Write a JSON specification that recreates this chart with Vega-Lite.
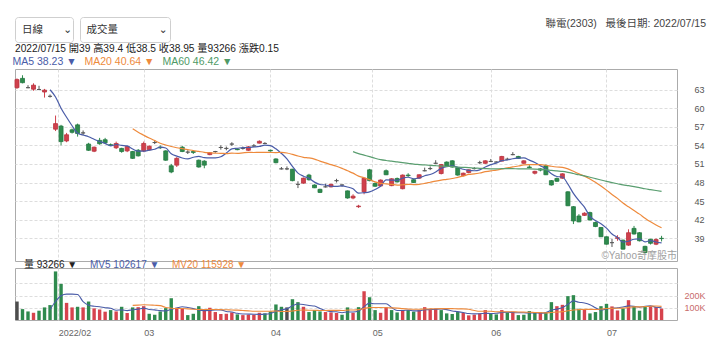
{
"$schema": "https://vega.github.io/schema/vega-lite/v6.json",
"padding": {"left": 14, "top": 16, "right": 8, "bottom": 4},
"background": "#ffffff",
"config": {
  "font": "Liberation Sans, Noto Sans CJK TC, DejaVu Sans, sans-serif",
  "view": {"stroke": "#ababab"},
  "axis": {"domain": false, "ticks": false, "tickSize": 0, "gridColor": "#dddddd", "gridDash": [3, 2], "labelColor": "#555555", "labelFontSize": 9, "labelFlush": false, "labelOverlap": false},
  "title": {"fontWeight": "normal"},
  "legend": {"padding": 0}
},
"datasets": {"k": [
{"d":"2022-01-17","i":0,"o":63.3,"h":64.8,"l":63.1,"c":64.6,"v":151000,"vd":"f"},
{"d":"2022-01-18","i":1,"o":64.8,"h":65.3,"l":64.0,"c":64.1,"v":89000,"vd":"d"},
{"d":"2022-01-19","i":2,"o":63.3,"h":63.7,"l":63.2,"c":63.3,"v":70000,"vd":"d"},
{"d":"2022-01-20","i":3,"o":63.05,"h":64.0,"l":62.8,"c":63.7,"v":59000,"vd":"u"},
{"d":"2022-01-21","i":4,"o":63.0,"h":63.6,"l":62.9,"c":63.0,"v":76000,"vd":"d"},
{"d":"2022-01-24","i":5,"o":62.6,"h":63.1,"l":61.7,"c":62.9,"v":103000,"vd":"d"},
{"d":"2022-01-25","i":6,"o":61.9,"h":62.2,"l":61.7,"c":61.9,"v":122000,"vd":"d"},
{"d":"2022-01-26","i":7,"o":56.6,"h":58.8,"l":56.3,"c":57.5,"v":397000,"vd":"d"},
{"d":"2022-02-07","i":8,"o":57.1,"h":57.3,"l":54.0,"c":54.6,"v":295000,"vd":"d"},
{"d":"2022-02-08","i":9,"o":54.7,"h":56.0,"l":54.5,"c":55.7,"v":140000,"vd":"u"},
{"d":"2022-02-09","i":10,"o":56.5,"h":56.7,"l":55.9,"c":56.1,"v":103000,"vd":"u"},
{"d":"2022-02-10","i":11,"o":57.3,"h":57.5,"l":55.4,"c":55.9,"v":108000,"vd":"d"},
{"d":"2022-02-11","i":12,"o":56.0,"h":56.4,"l":55.6,"c":56.0,"v":103000,"vd":"u"},
{"d":"2022-02-14","i":13,"o":54.2,"h":54.4,"l":53.1,"c":53.2,"v":151000,"vd":"d"},
{"d":"2022-02-15","i":14,"o":53.05,"h":53.8,"l":52.9,"c":53.7,"v":95000,"vd":"u"},
{"d":"2022-02-16","i":15,"o":54.8,"h":55.2,"l":54.1,"c":54.25,"v":86000,"vd":"u"},
{"d":"2022-02-17","i":16,"o":54.9,"h":55.2,"l":54.2,"c":54.4,"v":68000,"vd":"u"},
{"d":"2022-02-18","i":17,"o":54.1,"h":54.3,"l":53.9,"c":54.0,"v":81000,"vd":"d"},
{"d":"2022-02-21","i":18,"o":53.6,"h":54.6,"l":53.4,"c":54.3,"v":70000,"vd":"u"},
{"d":"2022-02-22","i":19,"o":53.5,"h":53.6,"l":52.8,"c":53.0,"v":108000,"vd":"d"},
{"d":"2022-02-23","i":20,"o":53.1,"h":53.9,"l":52.9,"c":53.8,"v":57000,"vd":"u"},
{"d":"2022-02-24","i":21,"o":53.0,"h":53.1,"l":51.8,"c":51.9,"v":103000,"vd":"d"},
{"d":"2022-02-25","i":22,"o":53.2,"h":53.4,"l":52.2,"c":52.3,"v":105000,"vd":"u"},
{"d":"2022-03-01","i":23,"o":53.1,"h":54.6,"l":52.9,"c":54.3,"v":113000,"vd":"u"},
{"d":"2022-03-02","i":24,"o":53.3,"h":54.0,"l":53.1,"c":53.85,"v":51000,"vd":"d"},
{"d":"2022-03-03","i":25,"o":54.45,"h":54.7,"l":54.2,"c":54.45,"v":43000,"vd":"d"},
{"d":"2022-03-04","i":26,"o":53.7,"h":54.0,"l":53.4,"c":53.6,"v":70000,"vd":"d"},
{"d":"2022-03-07","i":27,"o":53.1,"h":53.2,"l":51.5,"c":51.6,"v":97000,"vd":"d"},
{"d":"2022-03-08","i":28,"o":50.7,"h":51.0,"l":49.5,"c":49.7,"v":178000,"vd":"d"},
{"d":"2022-03-09","i":29,"o":50.8,"h":52.1,"l":50.5,"c":51.9,"v":100000,"vd":"u"},
{"d":"2022-03-10","i":30,"o":53.7,"h":53.9,"l":52.9,"c":53.0,"v":95000,"vd":"u"},
{"d":"2022-03-11","i":31,"o":52.9,"h":53.2,"l":52.6,"c":52.9,"v":40000,"vd":"d"},
{"d":"2022-03-14","i":32,"o":53.0,"h":53.2,"l":52.6,"c":52.85,"v":51000,"vd":"d"},
{"d":"2022-03-15","i":33,"o":51.6,"h":51.7,"l":50.4,"c":50.5,"v":113000,"vd":"d"},
{"d":"2022-03-16","i":34,"o":51.45,"h":51.6,"l":50.3,"c":50.8,"v":84000,"vd":"u"},
{"d":"2022-03-17","i":35,"o":52.5,"h":52.9,"l":52.4,"c":52.8,"v":100000,"vd":"u"},
{"d":"2022-03-18","i":36,"o":53.0,"h":53.1,"l":52.8,"c":53.0,"v":65000,"vd":"u"},
{"d":"2022-03-21","i":37,"o":53.65,"h":54.0,"l":53.3,"c":53.65,"v":49000,"vd":"u"},
{"d":"2022-03-22","i":38,"o":53.5,"h":53.8,"l":53.2,"c":53.5,"v":51000,"vd":"u"},
{"d":"2022-03-23","i":39,"o":54.2,"h":54.5,"l":53.9,"c":54.2,"v":62000,"vd":"u"},
{"d":"2022-03-24","i":40,"o":53.4,"h":53.5,"l":53.2,"c":53.3,"v":46000,"vd":"d"},
{"d":"2022-03-25","i":41,"o":53.5,"h":53.8,"l":53.3,"c":53.5,"v":40000,"vd":"u"},
{"d":"2022-03-28","i":42,"o":53.2,"h":53.9,"l":53.1,"c":53.75,"v":43000,"vd":"u"},
{"d":"2022-03-29","i":43,"o":53.9,"h":54.2,"l":53.7,"c":53.9,"v":43000,"vd":"u"},
{"d":"2022-03-30","i":44,"o":54.35,"h":54.8,"l":54.3,"c":54.65,"v":59000,"vd":"u"},
{"d":"2022-03-31","i":45,"o":54.3,"h":54.5,"l":54.2,"c":54.3,"v":54000,"vd":"d"},
{"d":"2022-04-01","i":46,"o":53.2,"h":53.3,"l":53.0,"c":53.1,"v":70000,"vd":"d"},
{"d":"2022-04-06","i":47,"o":51.8,"h":51.9,"l":51.1,"c":51.2,"v":127000,"vd":"d"},
{"d":"2022-04-07","i":48,"o":50.2,"h":50.5,"l":50.1,"c":50.2,"v":108000,"vd":"d"},
{"d":"2022-04-08","i":49,"o":50.2,"h":50.6,"l":50.0,"c":50.2,"v":103000,"vd":"f"},
{"d":"2022-04-11","i":50,"o":50.15,"h":50.2,"l":48.2,"c":48.3,"v":170000,"vd":"d"},
{"d":"2022-04-12","i":51,"o":47.7,"h":48.2,"l":47.1,"c":47.7,"v":146000,"vd":"d"},
{"d":"2022-04-13","i":52,"o":47.9,"h":48.8,"l":47.8,"c":48.7,"v":108000,"vd":"u"},
{"d":"2022-04-14","i":53,"o":49.2,"h":49.4,"l":48.3,"c":48.45,"v":65000,"vd":"d"},
{"d":"2022-04-15","i":54,"o":47.6,"h":47.7,"l":47.1,"c":47.15,"v":81000,"vd":"d"},
{"d":"2022-04-18","i":55,"o":46.9,"h":47.0,"l":46.3,"c":46.4,"v":70000,"vd":"d"},
{"d":"2022-04-19","i":56,"o":47.3,"h":47.8,"l":47.2,"c":47.3,"v":65000,"vd":"u"},
{"d":"2022-04-20","i":57,"o":47.3,"h":47.8,"l":47.2,"c":47.7,"v":62000,"vd":"u"},
{"d":"2022-04-21","i":58,"o":48.3,"h":48.6,"l":48.0,"c":48.3,"v":57000,"vd":"u"},
{"d":"2022-04-22","i":59,"o":47.6,"h":47.7,"l":47.3,"c":47.6,"v":43000,"vd":"d"},
{"d":"2022-04-25","i":60,"o":46.65,"h":46.7,"l":45.4,"c":45.5,"v":103000,"vd":"d"},
{"d":"2022-04-26","i":61,"o":45.5,"h":46.1,"l":45.3,"c":45.8,"v":59000,"vd":"u"},
{"d":"2022-04-27","i":62,"o":44.1,"h":44.4,"l":43.9,"c":44.2,"v":105000,"vd":"d"},
{"d":"2022-04-28","i":63,"o":46.5,"h":48.8,"l":46.1,"c":48.7,"v":235000,"vd":"u"},
{"d":"2022-04-29","i":64,"o":50.05,"h":50.2,"l":48.2,"c":48.3,"v":186000,"vd":"d"},
{"d":"2022-05-03","i":65,"o":47.85,"h":48.0,"l":47.3,"c":47.4,"v":81000,"vd":"d"},
{"d":"2022-05-04","i":66,"o":47.45,"h":48.5,"l":47.4,"c":48.4,"v":59000,"vd":"u"},
{"d":"2022-05-05","i":67,"o":49.9,"h":50.1,"l":49.2,"c":49.25,"v":105000,"vd":"u"},
{"d":"2022-05-06","i":68,"o":47.5,"h":48.7,"l":47.4,"c":48.6,"v":81000,"vd":"d"},
{"d":"2022-05-09","i":69,"o":48.65,"h":48.8,"l":48.0,"c":48.1,"v":62000,"vd":"d"},
{"d":"2022-05-10","i":70,"o":47.0,"h":49.3,"l":46.9,"c":49.2,"v":81000,"vd":"u"},
{"d":"2022-05-11","i":71,"o":49.2,"h":49.5,"l":48.9,"c":49.1,"v":81000,"vd":"d"},
{"d":"2022-05-12","i":72,"o":48.45,"h":48.6,"l":47.9,"c":48.0,"v":68000,"vd":"d"},
{"d":"2022-05-13","i":73,"o":48.7,"h":49.3,"l":48.6,"c":49.25,"v":81000,"vd":"u"},
{"d":"2022-05-16","i":74,"o":49.9,"h":50.4,"l":49.8,"c":49.9,"v":105000,"vd":"u"},
{"d":"2022-05-17","i":75,"o":50.25,"h":50.6,"l":50.0,"c":50.25,"v":92000,"vd":"u"},
{"d":"2022-05-18","i":76,"o":51.1,"h":51.6,"l":51.0,"c":51.1,"v":92000,"vd":"u"},
{"d":"2022-05-19","i":77,"o":49.45,"h":51.0,"l":49.3,"c":50.9,"v":81000,"vd":"d"},
{"d":"2022-05-20","i":78,"o":51.3,"h":51.4,"l":50.5,"c":50.6,"v":54000,"vd":"d"},
{"d":"2022-05-23","i":79,"o":51.5,"h":51.6,"l":50.4,"c":50.5,"v":49000,"vd":"d"},
{"d":"2022-05-24","i":80,"o":50.4,"h":50.5,"l":49.1,"c":49.2,"v":65000,"vd":"d"},
{"d":"2022-05-25","i":81,"o":49.15,"h":49.6,"l":49.0,"c":49.5,"v":57000,"vd":"u"},
{"d":"2022-05-26","i":82,"o":49.6,"h":50.1,"l":49.5,"c":50.05,"v":38000,"vd":"u"},
{"d":"2022-05-27","i":83,"o":50.25,"h":50.5,"l":50.1,"c":50.25,"v":43000,"vd":"u"},
{"d":"2022-05-30","i":84,"o":51.2,"h":51.5,"l":51.0,"c":51.2,"v":54000,"vd":"u"},
{"d":"2022-05-31","i":85,"o":51.1,"h":51.6,"l":51.0,"c":51.5,"v":81000,"vd":"u"},
{"d":"2022-06-01","i":86,"o":51.4,"h":51.8,"l":51.3,"c":51.4,"v":49000,"vd":"d"},
{"d":"2022-06-02","i":87,"o":51.3,"h":51.4,"l":51.2,"c":51.3,"v":46000,"vd":"d"},
{"d":"2022-06-06","i":88,"o":51.45,"h":52.3,"l":51.4,"c":52.2,"v":81000,"vd":"u"},
{"d":"2022-06-07","i":89,"o":51.75,"h":52.0,"l":51.6,"c":51.75,"v":62000,"vd":"d"},
{"d":"2022-06-08","i":90,"o":52.5,"h":52.9,"l":52.4,"c":52.5,"v":68000,"vd":"u"},
{"d":"2022-06-09","i":91,"o":52.2,"h":52.3,"l":51.8,"c":51.9,"v":40000,"vd":"d"},
{"d":"2022-06-10","i":92,"o":51.1,"h":51.6,"l":51.0,"c":51.5,"v":43000,"vd":"d"},
{"d":"2022-06-13","i":93,"o":50.5,"h":50.8,"l":50.3,"c":50.4,"v":73000,"vd":"d"},
{"d":"2022-06-14","i":94,"o":49.5,"h":49.9,"l":49.3,"c":49.8,"v":62000,"vd":"d"},
{"d":"2022-06-15","i":95,"o":50.2,"h":50.3,"l":49.8,"c":50.0,"v":62000,"vd":"u"},
{"d":"2022-06-16","i":96,"o":50.7,"h":50.9,"l":49.2,"c":49.25,"v":62000,"vd":"d"},
{"d":"2022-06-17","i":97,"o":48.3,"h":48.4,"l":47.5,"c":47.6,"v":146000,"vd":"d"},
{"d":"2022-06-20","i":98,"o":48.65,"h":48.8,"l":48.1,"c":48.2,"v":113000,"vd":"u"},
{"d":"2022-06-21","i":99,"o":48.7,"h":49.5,"l":48.6,"c":49.4,"v":124000,"vd":"u"},
{"d":"2022-06-22","i":100,"o":46.5,"h":46.6,"l":44.2,"c":44.25,"v":195000,"vd":"d"},
{"d":"2022-06-23","i":101,"o":44.1,"h":44.2,"l":41.3,"c":41.8,"v":203000,"vd":"d"},
{"d":"2022-06-24","i":102,"o":42.6,"h":42.9,"l":41.6,"c":41.65,"v":92000,"vd":"d"},
{"d":"2022-06-27","i":103,"o":42.7,"h":43.2,"l":42.6,"c":43.05,"v":84000,"vd":"u"},
{"d":"2022-06-28","i":104,"o":43.15,"h":43.3,"l":41.9,"c":41.95,"v":54000,"vd":"d"},
{"d":"2022-06-29","i":105,"o":41.55,"h":41.7,"l":40.8,"c":40.9,"v":65000,"vd":"d"},
{"d":"2022-06-30","i":106,"o":40.75,"h":40.8,"l":39.2,"c":39.25,"v":113000,"vd":"d"},
{"d":"2022-07-01","i":107,"o":39.25,"h":39.3,"l":38.0,"c":38.05,"v":132000,"vd":"d"},
{"d":"2022-07-04","i":108,"o":38.3,"h":38.9,"l":37.6,"c":38.3,"v":111000,"vd":"u"},
{"d":"2022-07-05","i":109,"o":39.0,"h":39.5,"l":38.6,"c":39.1,"v":78000,"vd":"u"},
{"d":"2022-07-06","i":110,"o":38.7,"h":38.8,"l":37.2,"c":37.25,"v":95000,"vd":"d"},
{"d":"2022-07-07","i":111,"o":37.9,"h":40.45,"l":37.8,"c":39.9,"v":162000,"vd":"u"},
{"d":"2022-07-08","i":112,"o":40.6,"h":41.0,"l":39.6,"c":39.7,"v":113000,"vd":"d"},
{"d":"2022-07-11","i":113,"o":39.9,"h":40.0,"l":38.5,"c":38.6,"v":76000,"vd":"d"},
{"d":"2022-07-12","i":114,"o":37.7,"h":37.8,"l":36.6,"c":36.7,"v":113000,"vd":"d"},
{"d":"2022-07-13","i":115,"o":38.85,"h":38.9,"l":38.0,"c":38.2,"v":113000,"vd":"u"},
{"d":"2022-07-14","i":116,"o":38.05,"h":39.0,"l":37.9,"c":38.8,"v":105000,"vd":"u"},
{"d":"2022-07-15","i":117,"o":39.0,"h":39.4,"l":38.5,"c":38.95,"v":93266,"vd":"u"}
]},
"vconcat": [
  {
    "hconcat": [
      {
        "width": 58, "height": 25,
        "view": {"stroke": "#cfcfcf", "cornerRadius": 3, "fill": "#ffffff"},
        "data": {"values": [{"t": "日線\u00a0\u00a0\u00a0\u00a0\u00a0\u00a0\u00a0⌄"}]},
        "mark": {"type": "text", "fontSize": 10.5, "color": "#333333", "dx": 3},
        "encoding": {"text": {"field": "t"}}
      },
      {
        "width": 90, "height": 25,
        "view": {"stroke": "#cfcfcf", "cornerRadius": 3, "fill": "#ffffff"},
        "data": {"values": [{"t": "成交量\u00a0\u00a0\u00a0\u00a0\u00a0\u00a0\u00a0\u00a0\u00a0\u00a0\u00a0\u00a0\u00a0\u00a0⌄"}]},
        "mark": {"type": "text", "fontSize": 10.5, "color": "#333333", "dx": 2},
        "encoding": {"text": {"field": "t"}}
      },
      {
        "width": 530, "height": 25,
        "view": {"stroke": null},
        "data": {"values": [{"t": "聯電(2303)\u00a0\u00a0\u00a0最後日期: 2022/07/15"}]},
        "mark": {"type": "text", "fontSize": 10.5, "color": "#444444", "align": "right", "dy": -6},
        "encoding": {"text": {"field": "t"}, "x": {"value": "width"}}
      }
    ],
    "spacing": 5
  },
  {
    "width": 662, "height": 192,
    "title": {"text": "2022/07/15 開39 高39.4 低38.5 收38.95 量93266 漲跌0.15", "anchor": "start", "frame": "group", "fontSize": 10.2, "color": "#222222", "offset": 3},
    "data": {"name": "k"},
    "encoding": {
      "x": {"field": "i", "type": "quantitative", "title": null, "scale": {"domain": [-0.36, 119.8], "nice": false, "zero": false, "padding": 0}, "axis": {"values": [7.5, 23, 46, 64.5, 86, 107], "tickCount": 30, "labels": false, "grid": true}}
    },
    "layer": [
      {
        "mark": {"type": "rule", "strokeWidth": 1},
        "encoding": {
          "y": {"field": "l", "type": "quantitative", "title": null, "scale": {"domain": [35.34, 66.31], "nice": false, "zero": false, "padding": 0}, "axis": {"orient": "right", "values": [39, 42, 45, 48, 51, 54, 57, 60, 63], "tickCount": 30, "grid": true, "labelPadding": 17, "labelOverlap": false}},
          "y2": {"field": "h"},
          "stroke": {"condition": [{"test": "datum.c > datum.o", "value": "#d0404c"}, {"test": "datum.c < datum.o", "value": "#2e8a4d"}], "value": "#555555"}
        }
      },
      {
        "mark": {"type": "bar", "width": 4, "strokeWidth": 0.8, "orient": "vertical"},
        "encoding": {
          "y": {"field": "o", "type": "quantitative", "title": null},
          "y2": {"field": "c"},
          "fill": {"condition": [{"test": "datum.c > datum.o", "value": "#d0404c"}, {"test": "datum.c < datum.o", "value": "#2e8a4d"}], "value": "#555555"},
          "stroke": {"condition": [{"test": "datum.c > datum.o", "value": "#b8343f"}, {"test": "datum.c < datum.o", "value": "#257a42"}], "value": "#555555"}
        }
      },
      {
        "transform": [{"window": [{"op": "mean", "field": "c", "as": "ma"}], "frame": [-4, 0], "sort": [{"field": "i"}]}, {"filter": "datum.i >= 6"}],
        "mark": {"type": "line", "strokeWidth": 1.2, "interpolate": "monotone"},
        "encoding": {
          "y": {"field": "ma", "type": "quantitative", "title": null},
          "color": {"datum": "MA5", "type": "nominal", "scale": {"domain": ["MA5", "MA20", "MA60"], "range": ["#4a5ca8", "#ee8a3c", "#5a9e70"]},
            "legend": {"orient": "top", "direction": "horizontal", "title": null, "offset": 1, "labelFontSize": 10.5, "symbolType": "square", "symbolSize": 0.01, "symbolOpacity": 0, "symbolStrokeWidth": 0, "labelOffset": -13, "columnPadding": 7,
              "labelExpr": "datum.value === 'MA5' ? 'MA5 38.23 ▼' : datum.value === 'MA20' ? 'MA20 40.64 ▼' : 'MA60 46.42 ▼'",
              "labelColor": {"expr": "datum.value === 'MA5' ? '#4a5ca8' : datum.value === 'MA20' ? '#ee8a3c' : '#4f9a66'"}}}
        }
      },
      {
        "transform": [{"window": [{"op": "mean", "field": "c", "as": "ma"}], "frame": [-19, 0], "sort": [{"field": "i"}]}, {"filter": "datum.i >= 21"}],
        "mark": {"type": "line", "strokeWidth": 1.2, "interpolate": "monotone"},
        "encoding": {
          "y": {"field": "ma", "type": "quantitative", "title": null},
          "color": {"datum": "MA20", "type": "nominal"}
        }
      },
      {
        "transform": [{"window": [{"op": "mean", "field": "c", "as": "ma"}], "frame": [-59, 0], "sort": [{"field": "i"}]}, {"filter": "datum.i >= 61"}],
        "mark": {"type": "line", "strokeWidth": 1.2, "interpolate": "monotone"},
        "encoding": {
          "y": {"field": "ma", "type": "quantitative", "title": null},
          "color": {"datum": "MA60", "type": "nominal"}
        }
      },
      {
        "data": {"values": [{"t": "©Yahoo奇摩股市"}]},
        "mark": {"type": "text", "align": "right", "baseline": "bottom", "fontSize": 10, "color": "#a0a0a0"},
        "encoding": {"text": {"field": "t"}, "x": {"value": "width"}, "y": {"value": "height"}}
      }
    ]
  },
  {
    "width": 662, "height": 52,
    "data": {"name": "k"},
    "encoding": {
      "x": {"field": "i", "type": "quantitative", "title": null, "scale": {"domain": [-0.36, 119.8], "nice": false, "zero": false, "padding": 0},
        "axis": {"values": [7.5, 23, 46, 64.5, 86, 107], "tickCount": 30, "grid": true, "labelAlign": "left", "labelPadding": 8, "labelFontSize": 9, "labelColor": "#666666", "labelOverlap": false,
          "labelExpr": "datum.value == 7.5 ? '2022/02' : datum.value == 23 ? '03' : datum.value == 46 ? '04' : datum.value == 64.5 ? '05' : datum.value == 86 ? '06' : '07'"}}
    },
    "layer": [
      {
        "mark": {"type": "bar", "width": 3.4, "orient": "vertical"},
        "encoding": {
          "y": {"field": "v", "type": "quantitative", "title": null, "scale": {"domain": [0, 425000], "nice": false, "padding": 0},
            "axis": {"orient": "right", "values": [100000, 200000, 300000], "tickCount": 30, "grid": true, "labelPadding": 7, "labelColor": "#c86b6b", "labelFontSize": 9, "labelOverlap": false,
              "labelExpr": "datum.value <= 200000 ? format(datum.value / 1000, 'd') + 'K' : ''"}},
          "fill": {"field": "vd", "type": "nominal", "scale": {"domain": ["u", "d", "f"], "range": ["#d6434d", "#2f8a4e", "#4d4d4d"]}, "legend": null}
        }
      },
      {
        "transform": [{"window": [{"op": "mean", "field": "v", "as": "mv"}], "frame": [-4, 0], "sort": [{"field": "i"}]}, {"filter": "datum.i >= 6"}],
        "mark": {"type": "line", "strokeWidth": 1.1, "interpolate": "monotone"},
        "encoding": {
          "y": {"field": "mv", "type": "quantitative", "title": null},
          "color": {"datum": "MV5", "type": "nominal", "scale": {"domain": ["量", "MV5", "MV20"], "range": ["#222222", "#4a5ca8", "#ee8a3c"]},
            "legend": {"orient": "top", "direction": "horizontal", "title": null, "offset": -4, "labelFontSize": 10, "labelBaseline": "alphabetic", "symbolType": "square", "symbolSize": 64, "symbolOpacity": 0, "symbolStrokeWidth": 0, "labelOffset": -1, "columnPadding": 3,
              "labelExpr": "datum.value === '量' ? '量 93266 ▼' : datum.value === 'MV5' ? 'MV5 102617 ▼' : 'MV20 115928 ▼'",
              "labelColor": {"expr": "datum.value === '量' ? '#222222' : datum.value === 'MV5' ? '#4a5ca8' : '#ee8a3c'"}}}
        }
      },
      {
        "transform": [{"window": [{"op": "mean", "field": "v", "as": "mv"}], "frame": [-19, 0], "sort": [{"field": "i"}]}, {"filter": "datum.i >= 21"}],
        "mark": {"type": "line", "strokeWidth": 1.1, "interpolate": "monotone"},
        "encoding": {
          "y": {"field": "mv", "type": "quantitative", "title": null},
          "color": {"datum": "MV20", "type": "nominal"}
        }
      }
    ]
  }
],
"spacing": 0,
"resolve": {"scale": {"x": "independent", "y": "independent", "color": "independent"}, "legend": {"color": "independent"}}
}
